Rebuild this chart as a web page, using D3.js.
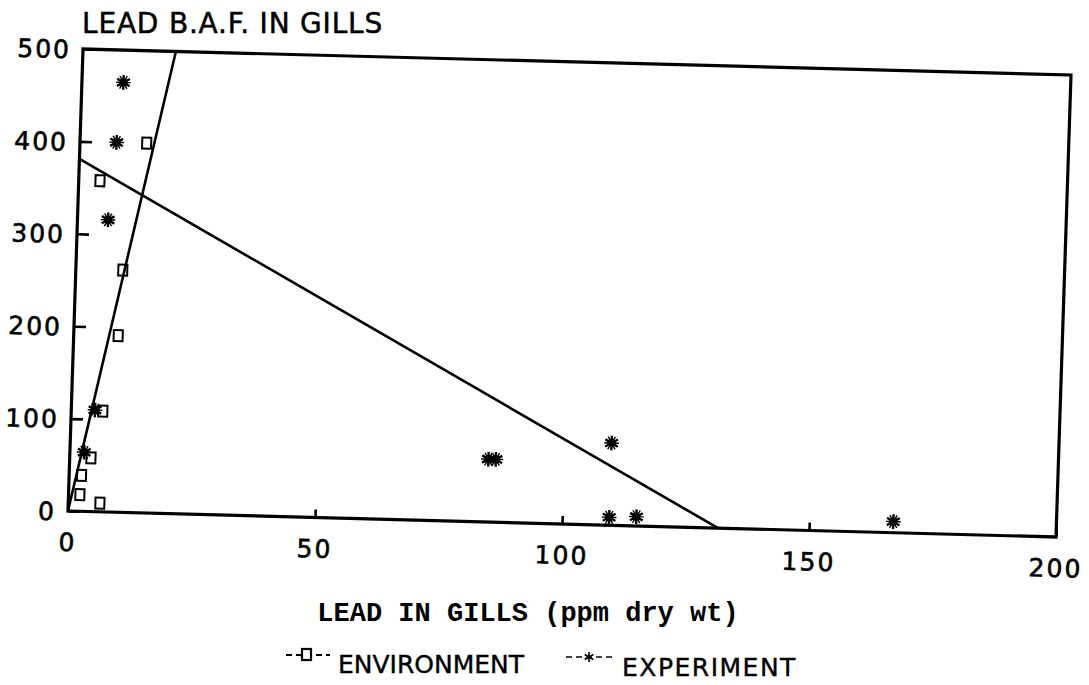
<!DOCTYPE html>
<html>
<head>
<meta charset="utf-8">
<script src="https://cdn.jsdelivr.net/npm/d3@7"></script>
<style>
  html, body { margin: 0; padding: 0; background: #fff; }
  svg { display: block; }
</style>
</head>
<body>
<svg id="chart" width="1089" height="685"></svg>
<script>
// ---- data ----
const xTicks = [0, 50, 100, 150, 200];
const yTicks = [0, 100, 200, 300, 400, 500];

// Environment samples: [lead in gills, BAF]
const envX = [13.5, 4.3, 9.5, 9.0, 6.4, 4.3, 2.5, 2.3, 6.4];
const envY = [400, 358, 262, 191, 109, 58, 39, 18, 9.5];

// Experiment samples
const expX = [8.4, 7.4, 6.2, 4.8, 2.9, 84.7, 86.2, 109.5, 109.5, 115, 167];
const expY = [465, 400, 316, 110, 64, 68, 68, 89, 8.6, 10, 12];

// Fitted lines (endpoints)
const envFitX = [0, 18.8];
const envFitY = [0, 500];
const expFitX = [0, 131.6];
const expFitY = [381, 0];

const titleText = "LEAD B.A.F. IN GILLS";
const xTitleText = "LEAD IN GILLS (ppm dry wt)";
const legendLabels = ["ENVIRONMENT", "EXPERIMENT"];

// ---- drawing ----
const svg = d3.select("#chart");
svg.append("rect").attr("width", 1089).attr("height", 685).attr("fill", "#fff");

const W = 988, H = 462;
// the scanned original is slightly skewed; reproduce with an affine transform
const g = svg.append("g").attr("transform", "matrix(1,0.0263,-0.0325,1,83,49)");

const x = d3.scaleLinear().domain([0, 200]).range([0, W]);
const y = d3.scaleLinear().domain([0, 500]).range([H, 0]);

const tickFont = "'DejaVu Sans', sans-serif";

// x axis (ticks pointing inward)
const xAxis = g.append("g").attr("transform", `translate(0,${H})`)
  .call(d3.axisBottom(x).tickValues(xTicks).tickSize(-8).tickSizeOuter(0).tickFormat(d3.format("d")));
xAxis.select(".domain").remove();
xAxis.selectAll(".tick line").attr("stroke", "#000").attr("stroke-width", 2.6);
xAxis.selectAll(".tick text")
  .attr("y", 40).attr("dy", 0)
  .attr("font-family", tickFont).attr("font-size", 25).attr("letter-spacing", 2)
  .attr("fill", "#000").attr("stroke", "#000").attr("stroke-width", 0.6);

// y axis
const yAxis = g.append("g")
  .call(d3.axisLeft(y).tickValues(yTicks).tickSize(-12).tickSizeOuter(0).tickPadding(12).tickFormat(d3.format("d")));
yAxis.select(".domain").remove();
yAxis.selectAll(".tick line").attr("stroke", "#000").attr("stroke-width", 2.6);
yAxis.selectAll(".tick text")
  .attr("dy", "0.36em")
  .attr("font-family", tickFont).attr("font-size", 25).attr("letter-spacing", 2)
  .attr("fill", "#000").attr("stroke", "#000").attr("stroke-width", 0.6);

// frame
g.append("rect").attr("x", 0).attr("y", 0).attr("width", W).attr("height", H)
  .attr("fill", "none").attr("stroke", "#000").attr("stroke-width", 3.2);

// fitted lines
const line = d3.line().x(d => x(d[0])).y(d => y(d[1]));
g.append("path").datum(d3.zip(envFitX, envFitY)).attr("d", line)
  .attr("fill", "none").attr("stroke", "#000").attr("stroke-width", 2.6);
g.append("path").datum(d3.zip(expFitX, expFitY)).attr("d", line)
  .attr("fill", "none").attr("stroke", "#000").attr("stroke-width", 2.6);

// environment markers: open squares
g.selectAll(".env").data(d3.zip(envX, envY)).join("rect")
  .attr("class", "env")
  .attr("x", d => x(d[0]) - 4.5).attr("y", d => y(d[1]) - 5.5)
  .attr("width", 9).attr("height", 11)
  .attr("fill", "none").attr("stroke", "#000").attr("stroke-width", 2);

// experiment markers: asterisks
const star = d3.symbol().type(d3.symbolAsterisk).size(150);
const expG = g.selectAll(".exp").data(d3.zip(expX, expY)).join("g")
  .attr("class", "exp")
  .attr("transform", d => `translate(${x(d[0])},${y(d[1])})`);
expG.append("path").attr("d", star).attr("fill", "none").attr("stroke", "#000").attr("stroke-width", 2.4);
expG.append("path").attr("d", star).attr("transform", "rotate(30)")
  .attr("fill", "none").attr("stroke", "#000").attr("stroke-width", 1.4);
expG.append("circle").attr("r", 4).attr("fill", "#000");

// title
svg.append("text").attr("x", 82).attr("y", 33)
  .attr("font-family", tickFont).attr("font-size", 28).attr("letter-spacing", 0.8)
  .attr("fill", "#000").attr("stroke", "#000").attr("stroke-width", 0.5)
  .text(titleText);

// x axis title
svg.append("text").attr("x", 528).attr("y", 621).attr("text-anchor", "middle")
  .attr("font-family", "'Liberation Mono', 'DejaVu Sans Mono', monospace")
  .attr("font-weight", "bold").attr("font-size", 27).attr("fill", "#000")
  .text(xTitleText);

// legend
const lg = svg.append("g");
// environment entry
lg.append("line").attr("x1", 286).attr("x2", 330).attr("y1", 655).attr("y2", 655)
  .attr("stroke", "#000").attr("stroke-width", 1.8).attr("stroke-dasharray", "6,4");
lg.append("rect").attr("x", 302).attr("y", 649).attr("width", 9).attr("height", 11)
  .attr("fill", "#fff").attr("stroke", "#000").attr("stroke-width", 2.2);
lg.append("text").attr("x", 338).attr("y", 673)
  .attr("font-family", tickFont).attr("font-size", 25).attr("fill", "#000")
  .attr("stroke", "#000").attr("stroke-width", 0.4)
  .text(legendLabels[0]);
// experiment entry
lg.append("line").attr("x1", 566).attr("x2", 612).attr("y1", 657).attr("y2", 657)
  .attr("stroke", "#000").attr("stroke-width", 1.5).attr("stroke-dasharray", "6,4");
lg.append("path").attr("d", d3.symbol().type(d3.symbolAsterisk).size(70))
  .attr("transform", "translate(589,657)")
  .attr("fill", "none").attr("stroke", "#000").attr("stroke-width", 1.6);
lg.append("text").attr("x", 622).attr("y", 676)
  .attr("font-family", tickFont).attr("font-size", 25).attr("letter-spacing", 1.5).attr("fill", "#000")
  .attr("stroke", "#000").attr("stroke-width", 0.4)
  .text(legendLabels[1]);
</script>
</body>
</html>
